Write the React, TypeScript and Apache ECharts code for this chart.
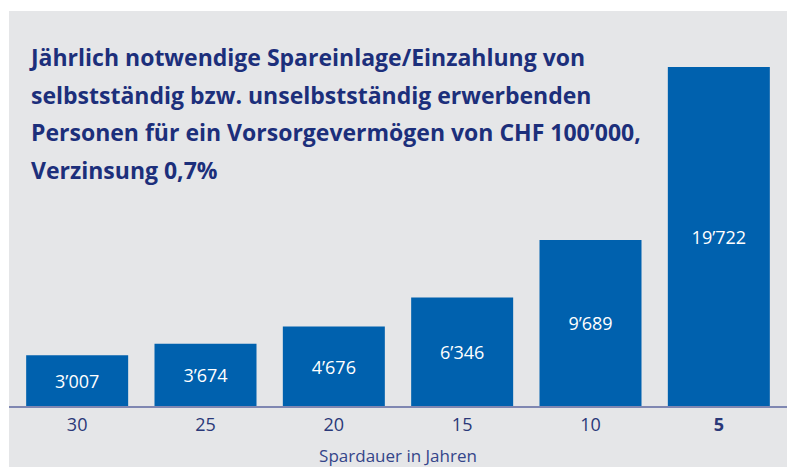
import React, { useEffect, useRef } from "react";
import * as echarts from "echarts";

const categories = ["30", "25", "20", "15", "10", "5"];
const values = [3007, 3674, 4676, 6346, 9689, 19722];
const titleLines = [
  "Jährlich notwendige Spareinlage/Einzahlung von",
  "selbstständig bzw. unselbstständig erwerbenden",
  "Personen für ein Vorsorgevermögen von CHF 100’000,",
  "Verzinsung 0,7%",
];
const axisTitle = "Spardauer in Jahren";

const fmt = (v: number) => {
  const s = String(Math.round(v));
  return s.replace(/\B(?=(\d{3})+(?!\d))/g, "’");
};

export default function App() {
  const ref = useRef<HTMLDivElement>(null);
  useEffect(() => {
    if (!ref.current) return;
    const chart = echarts.init(ref.current, null, { renderer: "svg" });
    const font = "'Open Sans', 'Noto Sans', sans-serif";
    chart.setOption({
      animation: false,
      backgroundColor: "#ffffff",
      graphic: [
        {
          type: "rect",
          z: -10,
          shape: { x: 9, y: 11, width: 778, height: 456 },
          style: { fill: "#e5e6e8" },
          silent: true,
        },
        {
          type: "line",
          z: 10,
          shape: { x1: 9, y1: 407, x2: 787, y2: 407 },
          style: { stroke: "#7f87b2", lineWidth: 2 },
          silent: true,
        },
      ],
      title: {
        text: titleLines.join("\n"),
        left: 26,
        top: 33,
        textStyle: {
          fontFamily: font,
          fontWeight: "bold",
          fontSize: 23,
          lineHeight: 37.7,
          color: "#1c2f7b",
        },
      },
      grid: { left: 13, right: 8, top: 67, bottom: 60, outerBoundsMode: "none" },
      xAxis: {
        type: "category",
        data: categories,
        axisLine: { show: false },
        axisTick: { show: false },
        axisLabel: {
          margin: 8,
          fontFamily: font,
          fontSize: 18,
          color: "#2a3878",
          formatter: (v: string) => (v === "5" ? "{b|" + v + "}" : v),
          rich: {
            b: { fontFamily: font, fontSize: 18, fontWeight: "bold", color: "#2a3878" },
          },
        },
        name: axisTitle,
        nameLocation: "middle",
        nameGap: 40,
        nameTextStyle: { fontFamily: font, fontSize: 17, color: "#34458a" },
      },
      yAxis: {
        type: "value",
        min: 0,
        max: 19722,
        show: false,
        splitLine: { show: false },
      },
      series: [
        {
          type: "bar",
          data: values,
          barWidth: 102,
          itemStyle: { color: "#0061ae" },
          label: {
            show: true,
            position: "inside",
            color: "#ffffff",
            fontFamily: font,
            fontSize: 18,
            formatter: (p: any) => fmt(p.value),
          },
        },
      ],
    });
    return () => chart.dispose();
  }, []);
  return (
    <div
      ref={ref}
      style={{ position: "fixed", left: 0, top: 0, width: 791, height: 467 }}
    />
  );
}
